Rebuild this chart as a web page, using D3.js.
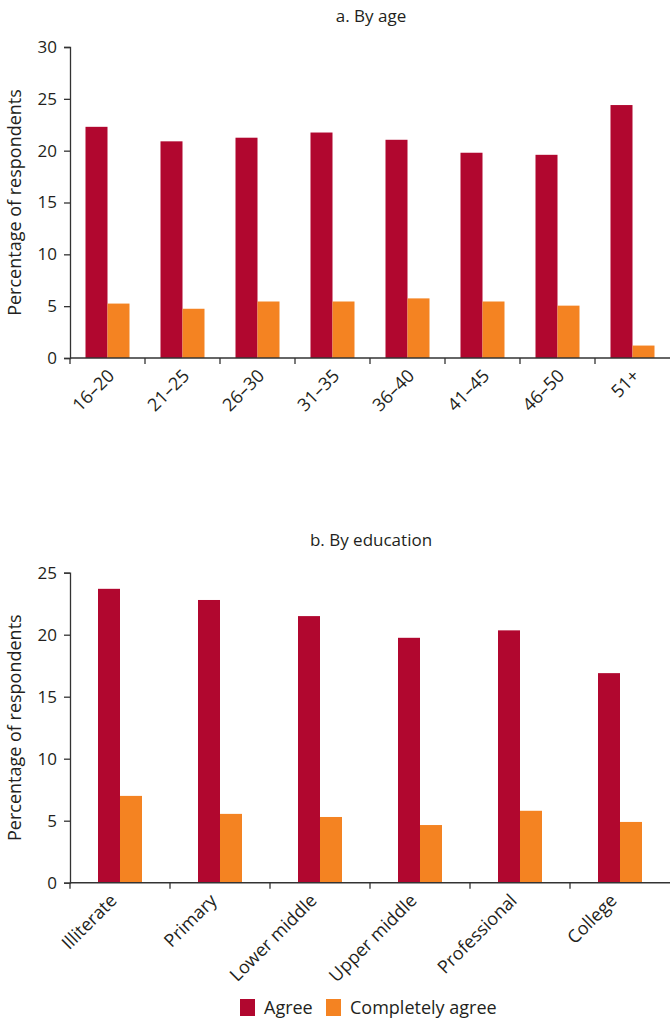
<!DOCTYPE html>
<html><head><meta charset="utf-8">
<script src="https://cdn.jsdelivr.net/npm/d3@7"></script>
<style>
html,body{margin:0;padding:0;background:#fff;}
text{font-family:"Open Sans",Lato,sans-serif;fill:#231f20;}
</style></head>
<body>
<svg id="chart" width="670" height="1021"></svg>
<script>
const series = ["Agree", "Completely agree"];
const seriesColors = ["#b1072f", "#f48322"];

const ageCategories = ["16–20","21–25","26–30","31–35","36–40","41–45","46–50","51+"];
const ageAgree = [22.3, 20.9, 21.25, 21.75, 21.05, 19.8, 19.6, 24.4];
const ageCompletely = [5.25, 4.75, 5.45, 5.45, 5.75, 5.45, 5.05, 1.2];
const ageTicks = [0,5,10,15,20,25,30];

const eduCategories = ["Illiterate","Primary","Lower middle","Upper middle","Professional","College"];
const eduAgree = [23.7, 22.8, 21.5, 19.75, 20.35, 16.9];
const eduCompletely = [7.0, 5.55, 5.3, 4.65, 5.8, 4.9];
const eduTicks = [0,5,10,15,20,25];

const svg = d3.select("#chart");
const FONT = "'Open Sans', Lato, sans-serif";

function drawPanel(opts){
  const {title, titleY, cats, vals, ymax, ticks, top, bottom, labelDx, labelDy} = opts;
  const left = 70, right = 670;
  const x = d3.scaleBand().domain(cats).range([left, right]).padding(0);
  const y = d3.scaleLinear().domain([0, ymax]).range([bottom, top]);
  const bw = x.bandwidth();
  const barW = 22;
  const x1 = d3.scaleBand().domain(series).range([bw/2 - barW, bw/2 + barW]).padding(0);
  const g = svg.append("g");

  g.append("text").attr("x", 371).attr("y", titleY).attr("text-anchor","middle")
    .style("font-size","17px").text(title);

  const groups = g.selectAll("g.grp").data(cats).join("g")
    .attr("transform", d => `translate(${x(d)},0)`);
  groups.selectAll("rect").data((c,i) => series.map((s,j) => ({s, v: vals[j][i], j})))
    .join("rect")
    .attr("x", d => x1(d.s))
    .attr("width", x1.bandwidth())
    .attr("y", d => y(d.v))
    .attr("height", d => y(0) - y(d.v))
    .attr("fill", d => seriesColors[d.j]);

  const ya = g.append("g").attr("transform", `translate(${left},0)`)
    .call(d3.axisLeft(y).tickValues(ticks).tickSize(6).tickPadding(7).tickFormat(d3.format("d")));
  ya.select(".domain").attr("stroke","#333").attr("stroke-width",1.3);
  ya.selectAll(".tick line").attr("stroke","#333").attr("stroke-width",1.3);
  ya.selectAll(".tick text").style("font-size","17px").style("font-family",FONT).attr("fill","#231f20");

  const xa = g.append("g");
  xa.append("line").attr("x1", left).attr("x2", right).attr("y1", y(0)).attr("y2", y(0))
    .attr("stroke","#333").attr("stroke-width",1.5);
  xa.selectAll("line.t").data(cats).join("line").attr("class","t")
    .attr("x1", d => x(d)).attr("x2", d => x(d))
    .attr("y1", y(0)).attr("y2", y(0) + 6)
    .attr("stroke","#333").attr("stroke-width",1.3);
  xa.selectAll("text").data(cats).join("text")
    .attr("text-anchor","end")
    .attr("transform", d => `translate(${x(d) + bw/2 + labelDx},${y(0) + labelDy}) rotate(-45)`)
    .style("font-size","18px").text(d => d);

  g.append("text").attr("text-anchor","middle")
    .attr("transform", `translate(21,${(top + bottom)/2}) rotate(-90)`)
    .style("font-size","18px").text("Percentage of respondents");
}

drawPanel({title:"a. By age", titleY:22, cats: ageCategories, vals:[ageAgree, ageCompletely],
  ymax:30, ticks: ageTicks, top:47, bottom:358, labelDx:8, labelDy:19});
drawPanel({title:"b. By education", titleY:546, cats: eduCategories, vals:[eduAgree, eduCompletely],
  ymax:25, ticks: eduTicks, top:572.7, bottom:882.7, labelDx:-2, labelDy:19});

const lg = svg.append("g").attr("transform","translate(240,999)");
const items = lg.selectAll("g").data(series).join("g")
  .attr("transform", (d,i) => `translate(${i === 0 ? 0 : 86},0)`);
items.append("rect").attr("width",15).attr("height",17).attr("fill",(d,i)=>seriesColors[i]);
items.append("text").attr("x",24).attr("y",15).style("font-size","18px").text(d => d);
</script>
</body></html>
